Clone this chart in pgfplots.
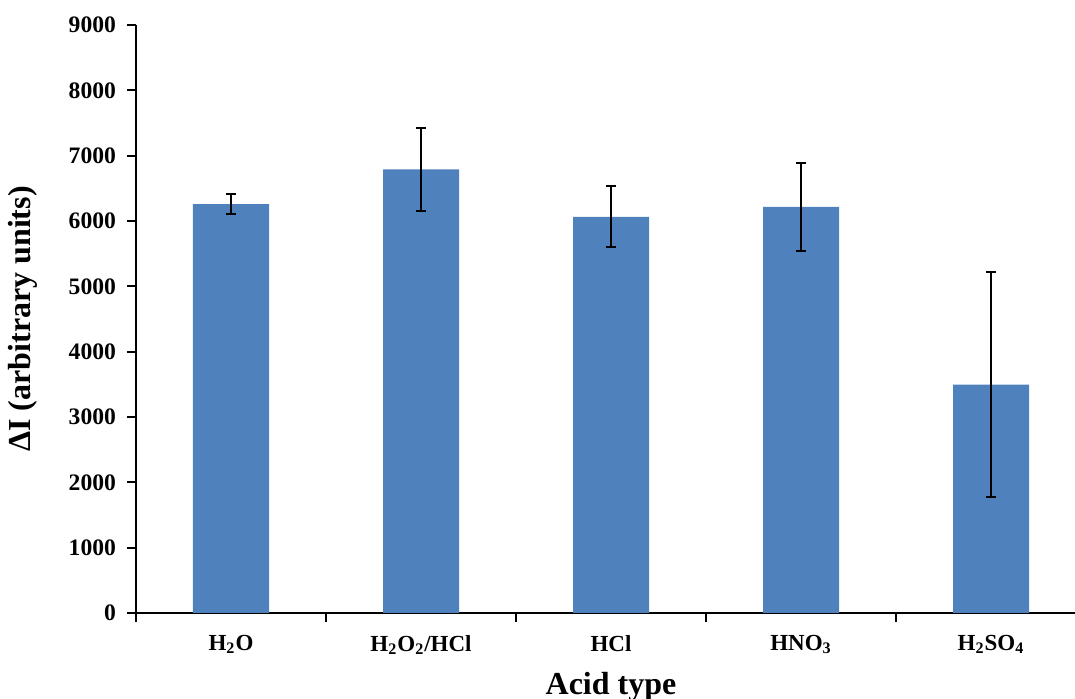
\documentclass[border=0pt]{standalone}
\usepackage{fontspec}
\setmainfont{Liberation Serif}
\usepackage{pgfplots}
\pgfplotsset{compat=1.18}
\definecolor{barblue}{RGB}{79,129,189}

\begin{document}
\begin{tikzpicture}
\begin{axis}[
  scale only axis,
  width=475pt, height=294pt,
  xmin=-0.5, xmax=4.5,
  ymin=0, ymax=9000,
  axis x line*=bottom,
  axis y line*=left,
  axis line style={line width=1.3pt, black},
  tick align=outside,
  ytick={0,1000,...,9000},
  xtick={0,1,2,3,4},
  xticklabels={H\textsubscript{2}O, H\textsubscript{2}O\textsubscript{2}/HCl, HCl, HNO\textsubscript{3}, H\textsubscript{2}SO\textsubscript{4}},
  major x tick style={draw=none},
  minor xtick={-0.5,0.5,1.5,2.5,3.5,4.5},
  minor tick length=4.5pt,
  minor x tick style={line width=1pt, black},
  major tick length=4.5pt,
  major y tick style={line width=1pt, black},
  /pgf/number format/assume math mode=true,
  /pgf/number format/1000 sep={},
  scaled y ticks=false,
  yticklabel style={font=\bfseries\fontsize{11.8}{13}\selectfont, xshift=-2pt},
  xticklabel style={font=\bfseries\fontsize{11.5}{13}\selectfont, yshift=-3pt},
  ylabel={\bfseries ΔI (arbitrary units)},
  xlabel={\bfseries Acid type},
  label style={font=\bfseries\fontsize{16}{19}\selectfont},
  ylabel style={yshift=9pt},
  xlabel style={yshift=-2pt},
  clip=false,
]
\addplot[ybar, bar width=38pt, fill=barblue, draw=none,
  error bars/.cd, y dir=both, y explicit,
  error bar style={line width=0.8pt, black},
  error mark options={rotate=90, line width=1pt, black, mark size=2.4pt}]
  table[x=x, y=y, y error=e] {
  x y e
  0 6260 153
  1 6790 636
  2 6065 470
  3 6215 676
  4 3495 1718
  };
\end{axis}
\pgfresetboundingbox
\path[use as bounding box] (-68pt,-43pt) rectangle (469.5pt,306.5pt);
\end{tikzpicture}
\end{document}
